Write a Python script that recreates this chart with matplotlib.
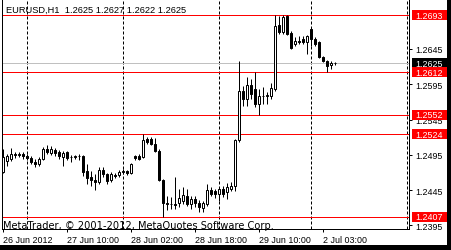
import matplotlib
matplotlib.use("Agg")
import matplotlib.pyplot as plt
from matplotlib.patches import Rectangle
import numpy as np

# ---------------- data ----------------
chart_title = "EURUSD,H1  1.2625 1.2627 1.2622 1.2625"
footer_text = "MetaTrader, \u00a9 2001-2012, MetaQuotes Software Corp."

opens = [1.2471, 1.2486, 1.2489, 1.2496, 1.2495, 1.2496, 1.2493, 1.2490, 1.2485, 1.2482,
         1.2489, 1.2503, 1.2498, 1.2502, 1.2499, 1.2492, 1.2499, 1.2492, 1.2492, 1.2493,
         1.2493, 1.2472, 1.2464, 1.2459, 1.2457, 1.2474, 1.2468, 1.2459, 1.2466, 1.2466,
         1.2471, 1.2472, 1.2469, 1.2493, 1.2493, 1.2492, 1.2517, 1.2517, 1.2510, 1.2500,
         1.2459, 1.2427, 1.2425, 1.2425, 1.2427, 1.2430, 1.2437, 1.2425, 1.2432, 1.2427,
         1.2420, 1.2425, 1.2445, 1.2444, 1.2440, 1.2447, 1.2442, 1.2447, 1.2451, 1.2516,
         1.2585, 1.2574, 1.2594, 1.2588, 1.2567, 1.2578, 1.2578, 1.2578, 1.2588, 1.2679,
         1.2669, 1.2692, 1.2668, 1.2652, 1.2656, 1.2659, 1.2655, 1.2673, 1.2659, 1.2655,
         1.2634, 1.2628, 1.2622, 1.2625]
highs = [1.2503, 1.2496, 1.2505, 1.2499, 1.2499, 1.2499, 1.2496, 1.2493, 1.2489, 1.2492,
         1.2506, 1.2509, 1.2507, 1.2505, 1.2502, 1.2500, 1.2500, 1.2495, 1.2495, 1.2496,
         1.2495, 1.2482, 1.2472, 1.2468, 1.2478, 1.2478, 1.2469, 1.2471, 1.2469, 1.2474,
         1.2475, 1.2474, 1.2483, 1.2495, 1.2496, 1.2524, 1.2520, 1.2520, 1.2519, 1.2503,
         1.2461, 1.2437, 1.2435, 1.2464, 1.2447, 1.2449, 1.2447, 1.2437, 1.2437, 1.2431,
         1.2430, 1.2454, 1.2449, 1.2447, 1.2449, 1.2451, 1.2455, 1.2457, 1.2517, 1.2628,
         1.2593, 1.2605, 1.2602, 1.2612, 1.2588, 1.2591, 1.2584, 1.2597, 1.2693, 1.2692,
         1.2693, 1.2693, 1.2670, 1.2662, 1.2663, 1.2663, 1.2665, 1.2675, 1.2662, 1.2656,
         1.2635, 1.2629, 1.2628, 1.2627]
lows = [1.2469, 1.2479, 1.2486, 1.2490, 1.2492, 1.2489, 1.2488, 1.2482, 1.2478, 1.2479,
        1.2488, 1.2496, 1.2495, 1.2493, 1.2489, 1.2479, 1.2488, 1.2485, 1.2489, 1.2488,
        1.2465, 1.2454, 1.2451, 1.2445, 1.2454, 1.2464, 1.2454, 1.2457, 1.2462, 1.2464,
        1.2468, 1.2466, 1.2468, 1.2488, 1.2488, 1.2490, 1.2510, 1.2509, 1.2499, 1.2458,
        1.2407, 1.2417, 1.2418, 1.2418, 1.2421, 1.2425, 1.2423, 1.2418, 1.2421, 1.2414,
        1.2414, 1.2423, 1.2437, 1.2434, 1.2430, 1.2435, 1.2432, 1.2444, 1.2444, 1.2513,
        1.2564, 1.2564, 1.2574, 1.2563, 1.2552, 1.2567, 1.2567, 1.2574, 1.2585, 1.2666,
        1.2666, 1.2665, 1.2645, 1.2649, 1.2652, 1.2652, 1.2638, 1.2649, 1.2649, 1.2632,
        1.2626, 1.2612, 1.2617, 1.2622]
closes = [1.2492, 1.2493, 1.2496, 1.2495, 1.2496, 1.2493, 1.2490, 1.2485, 1.2482, 1.2489,
          1.2503, 1.2499, 1.2503, 1.2498, 1.2493, 1.2498, 1.2490, 1.2492, 1.2493, 1.2493,
          1.2471, 1.2462, 1.2459, 1.2457, 1.2474, 1.2468, 1.2458, 1.2468, 1.2465, 1.2471,
          1.2472, 1.2469, 1.2482, 1.2490, 1.2489, 1.2516, 1.2513, 1.2510, 1.2500, 1.2459,
          1.2427, 1.2425, 1.2426, 1.2424, 1.2434, 1.2438, 1.2425, 1.2432, 1.2427, 1.2421,
          1.2427, 1.2445, 1.2440, 1.2440, 1.2447, 1.2440, 1.2449, 1.2451, 1.2516, 1.2585,
          1.2574, 1.2594, 1.2581, 1.2567, 1.2578, 1.2578, 1.2580, 1.2590, 1.2677, 1.2669,
          1.2690, 1.2666, 1.2646, 1.2656, 1.2655, 1.2655, 1.2663, 1.2659, 1.2652, 1.2634,
          1.2628, 1.2621, 1.2625, 1.2625]

level_lines = [1.2693, 1.2612, 1.2552, 1.2524, 1.2407]
current_price = 1.2625
y_ticks = [1.2395, 1.2445, 1.2495, 1.2545, 1.2595, 1.2645]
x_tick_bars = [0, 16, 32, 48, 64, 80]
x_tick_labels = ["26 Jun 2012", "27 Jun 10:00", "28 Jun 02:00",
                 "28 Jun 18:00", "29 Jun 10:00", "2 Jul 03:00"]
day_start_bars = [6, 30, 54, 77, 101]

# ---------------- layout ----------------
W, H = 451, 251
PX = 0.72  # one pixel in points at dpi 100
plt.rcParams['lines.scale_dashes'] = False
fig = plt.figure(figsize=(W / 100, H / 100), dpi=100)
fig.patch.set_facecolor("white")

ax_left, ax_right, ax_top, ax_bottom = 2, 409, 0, 230
ax = fig.add_axes([ax_left / W, (H - ax_bottom) / H,
                   (ax_right - ax_left) / W, (ax_bottom - ax_top) / H])
ymin, ymax = 1.2390, 1.27157
ax.set_ylim(ymin, ymax)
ax.set_xlim(-0.25, 101.5)
ax.set_facecolor("white")

n = len(opens)
xs = np.arange(n)
o = np.array(opens); h = np.array(highs); l = np.array(lows); c = np.array(closes)

# daily separators
for b in day_start_bars:
    ax.axvline(b, color="black", lw=PX, linestyle=(0, (3 * PX, 2 * PX)),
               zorder=1, snap=True)

# level lines
ax.axhline(current_price, color="#C0C0C0", lw=PX, zorder=2, snap=True)
for lv in level_lines:
    ax.axhline(lv, color="#FF0000", lw=PX, zorder=2, snap=True)

# candles
ax.vlines(xs, l, h, color="black", lw=PX, zorder=3, snap=True)
bw = 0.5
for i in range(n):
    bottom = min(o[i], c[i])
    height = abs(c[i] - o[i])
    face = "white" if c[i] >= o[i] else "black"
    ax.add_patch(Rectangle((xs[i] - bw / 2, bottom), bw, height, facecolor=face,
                           edgecolor="black", lw=PX, zorder=4, snap=True))

# axes styling
for s in ["left", "bottom", "right"]:
    ax.spines[s].set_linewidth(PX)
    ax.spines[s].set_color("black")
ax.spines["top"].set_visible(False)

ax.yaxis.tick_right()
ax.set_yticks(y_ticks)
ax.set_yticklabels([f"{v:.4f}" for v in y_ticks])
ax.set_xticks(x_tick_bars)
ax.set_xticklabels(x_tick_labels, ha="left")
ax.tick_params(axis="both", direction="out", length=3 * PX, width=PX,
               labelsize=6.4, colors="black")
ax.tick_params(axis="y", pad=2.5)
ax.tick_params(axis="x", pad=2.0)
for lab in ax.get_xticklabels() + ax.get_yticklabels():
    lab.set_fontfamily("Liberation Sans")

# title and footer
ax.annotate(chart_title, xy=(0, 1), xycoords="axes fraction", xytext=(4.5, -13.3),
            textcoords="offset pixels", ha="left", va="baseline",
            fontsize=6.7, family="Liberation Sans", color="black", zorder=6)
ax.annotate(footer_text, xy=(0, 0), xycoords="axes fraction", xytext=(1.3, 0.6),
            textcoords="offset pixels", ha="left", va="baseline",
            fontsize=7.1, family="DejaVu Sans", color="black", zorder=6)

# price label boxes (overlay in right margin, x in pixels)
lab_ax = fig.add_axes([ax_right / W, (H - ax_bottom) / H,
                       (W - ax_right) / W, (ax_bottom - ax_top) / H])
lab_ax.set_xlim(0, W - ax_right)
lab_ax.set_ylim(ymin, ymax)
lab_ax.axis("off")
lab_ax.patch.set_alpha(0)
per_px = (ymax - ymin) / (ax_bottom - ax_top)
box_h = 10 * per_px


def price_box(price, color):
    lab_ax.add_patch(Rectangle((3, price - box_h / 2), 35, box_h, facecolor=color,
                               edgecolor="none", clip_on=False))
    lab_ax.text(6.3, price, f"{price:.4f}", color="white", fontsize=6.4,
                family="Liberation Sans", ha="left", va="center", clip_on=False)


price_box(current_price, "black")
for lv in level_lines:
    price_box(lv, "#FF0000")

# window border (right and bottom)
fig.patches.append(Rectangle(((W - 4) / W, 0), 4 / W, 1, transform=fig.transFigure,
                             facecolor="black", edgecolor="none", zorder=10))
fig.patches.append(Rectangle((0, 0), 1, 5 / H, transform=fig.transFigure,
                             facecolor="black", edgecolor="none", zorder=10))

fig.savefig("out.png", dpi=100, facecolor="white")
